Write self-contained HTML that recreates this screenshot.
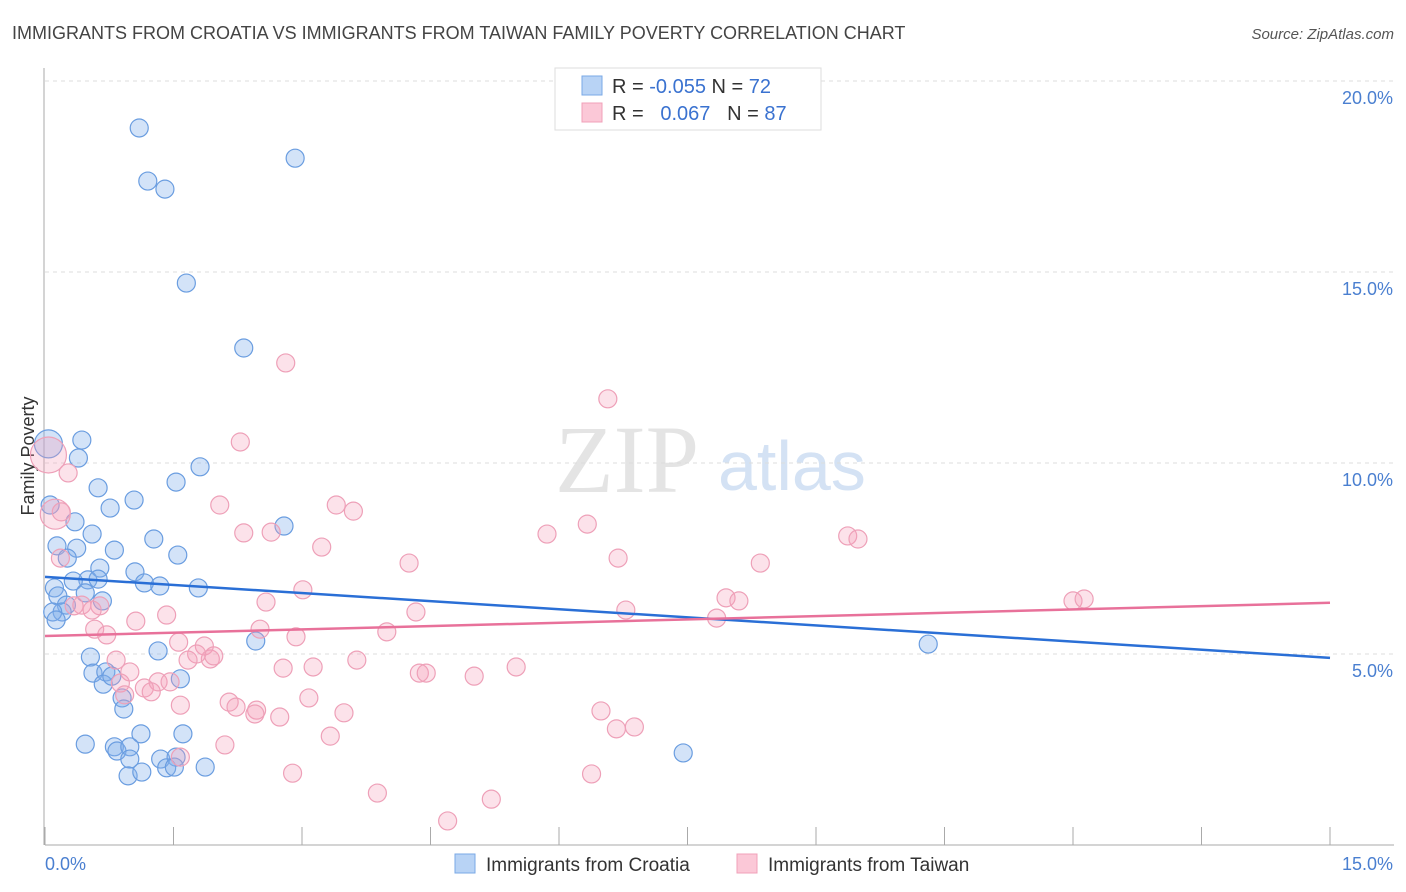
<!DOCTYPE html>
<html><head><meta charset="utf-8"><style>
body{margin:0;background:#fff;font-family:"Liberation Sans",sans-serif}
svg{display:block}
</style></head><body>
<svg id="chart" width="1406" height="892" xmlns="http://www.w3.org/2000/svg" font-family="Liberation Sans, sans-serif">
<text x="12" y="39" font-size="18" fill="#444">IMMIGRANTS FROM CROATIA VS IMMIGRANTS FROM TAIWAN FAMILY POVERTY CORRELATION CHART</text>
<text x="1394" y="39" font-size="15" fill="#555" font-style="italic" text-anchor="end">Source: ZipAtlas.com</text>
<text x="555" y="492" font-size="96" fill="#e4e4e4" font-family="Liberation Serif, serif">ZIP</text>
<text x="718" y="490" font-size="70" fill="#d4e2f4">atlas</text>
<text transform="translate(34,456) rotate(-90)" font-size="18" fill="#333" text-anchor="middle">Family Poverty</text>
<g id="grid"></g><g id="axes"></g><g id="pts"></g><g id="lines"></g>
<g>
<rect x="555" y="68" width="266" height="62" fill="#fff" stroke="#ddd"/>
<rect x="582" y="76" width="20" height="19" fill="#b8d3f5" stroke="#7aa8e6"/>
<rect x="582" y="103" width="20" height="19" fill="#fbc8d7" stroke="#f0a0b8"/>
<text x="612" y="93" font-size="20" fill="#333">R = <tspan fill="#3a72d0">-0.055</tspan>   N = <tspan fill="#3a72d0">72</tspan></text>
<text x="612" y="120" font-size="20" fill="#333" xml:space="preserve">R =   <tspan fill="#3a72d0">0.067</tspan>   N = <tspan fill="#3a72d0">87</tspan></text>
</g>
<g>
<rect x="455" y="854" width="20" height="19" fill="#b8d3f5" stroke="#7aa8e6"/>
<text x="486" y="871" font-size="19" fill="#333">Immigrants from Croatia</text>
<rect x="737" y="854" width="20" height="19" fill="#fbc8d7" stroke="#f0a0b8"/>
<text x="768" y="871" font-size="19" fill="#333">Immigrants from Taiwan</text>
</g>
</svg>
<script>
const xTicks=[0,1.5,3,4.5,6,7.5,9,10.5,12,13.5,15];
const yTicks=[5,10,15,20];
const yTickLabels=["5.0%","10.0%","15.0%","20.0%"];
const xTickLabels=["0.0%","15.0%"];
const croatiaX=[1.10,2.92,1.20,1.40,1.65,2.32,0.04,0.43,0.39,1.81,1.53,0.62,0.76,1.04,0.06,2.79,0.35,0.55,1.27,0.14,0.37,0.81,1.55,0.26,0.64,1.05,1.16,1.34,1.79,0.50,0.33,0.62,0.11,0.15,0.67,0.25,0.47,0.20,0.09,0.13,2.46,1.32,0.53,10.31,0.56,0.71,0.68,0.78,1.58,0.90,0.92,0.47,1.12,1.61,0.81,0.84,0.99,1.35,0.99,1.53,1.87,0.97,1.13,1.42,1.51,7.45];
const croatiaY=[18.77,17.98,17.38,17.17,14.71,13.01,10.50,10.60,10.13,9.90,9.50,9.35,8.82,9.03,8.90,8.35,8.46,8.14,8.01,7.83,7.77,7.72,7.59,7.51,7.25,7.15,6.86,6.78,6.73,6.94,6.91,6.96,6.73,6.52,6.39,6.28,6.60,6.10,6.10,5.89,5.34,5.08,4.92,5.26,4.50,4.53,4.21,4.42,4.35,3.85,3.56,2.64,2.91,2.91,2.57,2.46,2.57,2.25,2.25,2.30,2.04,1.81,1.91,2.02,2.04,2.41];
const taiwanX=[2.81,6.57,2.28,0.04,0.27,0.12,0.19,2.04,3.40,3.60,6.33,5.86,2.32,2.64,3.23,9.37,9.49,6.69,4.25,8.35,0.18,3.01,2.58,7.95,8.10,4.33,6.78,12.00,12.13,0.64,0.43,0.55,0.34,1.42,7.84,1.06,0.58,0.72,1.56,2.51,2.93,3.99,1.86,1.93,1.97,1.77,1.67,0.83,0.99,3.64,3.13,2.78,5.50,4.37,4.45,5.01,0.88,1.32,1.46,1.16,1.24,3.08,2.15,2.23,1.58,2.47,2.74,2.45,3.49,0.93,6.49,6.67,6.88,3.33,2.10,2.89,6.38,3.88,5.21,4.70,1.58];
const taiwanY=[12.62,11.68,10.55,10.21,9.74,8.66,8.72,8.90,8.90,8.74,8.40,8.14,8.17,8.19,7.80,8.09,8.01,7.51,7.38,7.38,7.51,6.68,6.36,6.47,6.39,6.10,6.15,6.39,6.44,6.26,6.28,6.15,6.26,6.02,5.94,5.86,5.65,5.50,5.31,5.65,5.45,5.58,5.21,4.87,4.95,5.00,4.84,4.84,4.53,4.84,4.66,4.63,4.66,4.50,4.50,4.42,4.24,4.27,4.27,4.11,4.01,3.85,3.74,3.61,3.66,3.53,3.35,3.43,3.46,3.93,3.51,3.04,3.09,2.85,2.62,1.88,1.86,1.36,1.20,0.63,2.30];
const croatiaTrend=[7.02,4.90];
const taiwanTrend=[5.47,6.34];
const X0=45,X1=1330,Y0=845,PY=38.2;
const sx=v=>X0+(X1-X0)*v/15, sy=v=>Y0-v*PY;
const NS="http://www.w3.org/2000/svg";
function mk(tag,attrs,parent){const e=document.createElementNS(NS,tag);for(const k in attrs)e.setAttribute(k,attrs[k]);document.getElementById(parent).appendChild(e);return e;}
yTicks.forEach((t,i)=>{
 const g=mk('line',{x1:X0,x2:1394,y1:sy(t),y2:sy(t),stroke:'#ddd','stroke-dasharray':'4,4'},'grid');
 
 
 const l=mk('text',{x:1393,y:sy(t)+23,'font-size':18,fill:'#4a7fd0','text-anchor':'end'},'axes');l.textContent=yTickLabels[i];
 
 
});
const ax=mk('line',{x1:X0-1,x2:X0-1,y1:68,y2:Y0,stroke:'#aaa'},'axes');


const bx=mk('line',{x1:X0,x2:1394,y1:Y0,y2:Y0,stroke:'#aaa'},'axes');


xTicks.forEach(t=>{const e=mk('line',{x1:sx(t),x2:sx(t),y1:Y0,y2:Y0-18,stroke:'#aaa'},'axes');
 
 });
const l0=mk('text',{x:45,y:870,'font-size':18,fill:'#4a7fd0'},'axes');l0.textContent=xTickLabels[0];


const l1=mk('text',{x:1393,y:870,'font-size':18,fill:'#4a7fd0','text-anchor':'end'},'axes');l1.textContent=xTickLabels[1];


function pts(xs,ys,fill,stroke,name,big){
 xs.forEach((x,i)=>{const r=big[i]||9;const c=mk('circle',{cx:sx(x),cy:sy(ys[i]),r:r,fill:fill,stroke:stroke,'stroke-width':1.2},'pts');
 
 });
}
pts(croatiaX,croatiaY,'rgba(130,175,235,0.35)','#6a9de0','croatia-point',{6:14});
pts(taiwanX,taiwanY,'rgba(245,160,185,0.3)','#eea0b8','taiwan-point',{3:18,5:15});
const bl=mk('line',{x1:sx(0),x2:sx(15),y1:sy(croatiaTrend[0]),y2:sy(croatiaTrend[1]),stroke:'#2a6fd6','stroke-width':2.5},'lines');


const pl=mk('line',{x1:sx(0),x2:sx(15),y1:sy(taiwanTrend[0]),y2:sy(taiwanTrend[1]),stroke:'#e8719a','stroke-width':2.5},'lines');


</script>
</body></html>
